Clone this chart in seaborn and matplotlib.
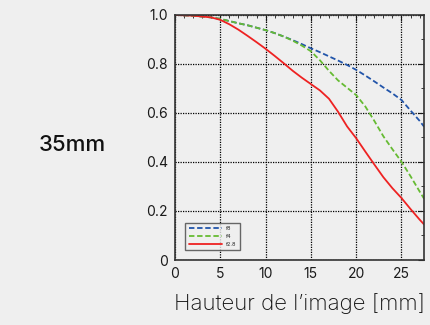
import numpy as np
import pandas as pd
import matplotlib
matplotlib.use('Agg')
import matplotlib.pyplot as plt
from matplotlib.ticker import MultipleLocator
import seaborn as sns

# MTF values (image height in mm)
x_pos = [0, 2, 4, 5, 6, 7, 8, 9, 10, 11, 12, 13, 14, 15, 16, 17, 18, 19, 20,
         21, 22, 23, 24, 25, 26, 27, 27.5]
mtf_f8 = [1.0, 0.997, 0.99, 0.984, 0.975, 0.966, 0.958, 0.948, 0.938, 0.926, 0.912,
          0.897, 0.881, 0.864, 0.848, 0.831, 0.814, 0.796, 0.776, 0.753, 0.729, 0.704,
          0.68, 0.653, 0.61, 0.568, 0.544]
mtf_f4 = [1.0, 0.997, 0.99, 0.984, 0.975, 0.966, 0.958, 0.948, 0.938, 0.926, 0.912,
          0.895, 0.875, 0.852, 0.815, 0.772, 0.733, 0.703, 0.673, 0.627, 0.568, 0.505,
          0.452, 0.401, 0.342, 0.28, 0.25]
mtf_f28 = [1.0, 0.997, 0.99, 0.98, 0.962, 0.94, 0.915, 0.889, 0.862, 0.833, 0.803,
           0.772, 0.744, 0.718, 0.692, 0.658, 0.605, 0.545, 0.497, 0.443, 0.39, 0.338,
           0.293, 0.253, 0.208, 0.165, 0.145]

labels = ['f8', 'f4', 'f2.8']
colors = ['#2255aa', '#66bb33', '#ee2222']
title = '35mm'
xlabel = 'Hauteur de l\u2019image [mm]'

frames = []
for lab, ys in zip(labels, [mtf_f8, mtf_f4, mtf_f28]):
    frames.append(pd.DataFrame({'x': x_pos, 'mtf': ys, 'f': lab}))
df = pd.concat(frames, ignore_index=True)

sns.set_style('white')
plt.rcParams['font.family'] = ['Inter', 'DejaVu Sans']
bg = '#efefef'

fig = plt.figure(figsize=(4.31, 3.25), dpi=100, facecolor=bg)
ax = fig.add_axes([0.406, 0.2, 0.578, 0.754], facecolor=bg)

sns.lineplot(data=df, x='x', y='mtf', hue='f', style='f',
             palette=dict(zip(labels, colors)),
             dashes={'f8': (3, 1.5), 'f4': (3, 1.5), 'f2.8': ''},
             linewidth=1.3, sort=False, ax=ax)

ax.set_xlim(0, 27.5)
ax.set_ylim(0, 1.0)
ax.xaxis.set_major_locator(MultipleLocator(5))
ax.xaxis.set_minor_locator(MultipleLocator(1))
ax.yaxis.set_major_locator(MultipleLocator(0.2))
ax.yaxis.set_minor_locator(MultipleLocator(0.1))
ax.set_yticks([0, 0.2, 0.4, 0.6, 0.8, 1.0])
ax.set_yticklabels(['0', '0.2', '0.4', '0.6', '0.8', '1.0'])
ax.grid(True, which='major', color='black', linestyle=(0, (1, 1)), linewidth=0.9)
ax.tick_params(which='both', direction='in', top=True, right=True, labelsize=10,
               colors='#1a1a1a', pad=5)
ax.tick_params(which='major', length=4)
ax.tick_params(which='minor', length=2)
for s in ax.spines.values():
    s.set_color('#333333')
    s.set_linewidth(1.2)

ax.set_xlabel(xlabel, fontsize=16, fontweight='light', color='#111111', labelpad=9)
ax.set_ylabel('')

leg = ax.legend(loc='lower left', fontsize=4, frameon=True, fancybox=False,
                edgecolor='#444444', handlelength=6, borderpad=0.6,
                bbox_to_anchor=(0.03, 0.03))
leg.get_frame().set_facecolor(bg)
leg.get_frame().set_linewidth(1.0)

fig.text(0.167, 0.555, title, fontsize=16, fontweight='medium', ha='center',
         va='center', color='#111111')

fig.savefig('out.png', dpi=100, facecolor=bg)
